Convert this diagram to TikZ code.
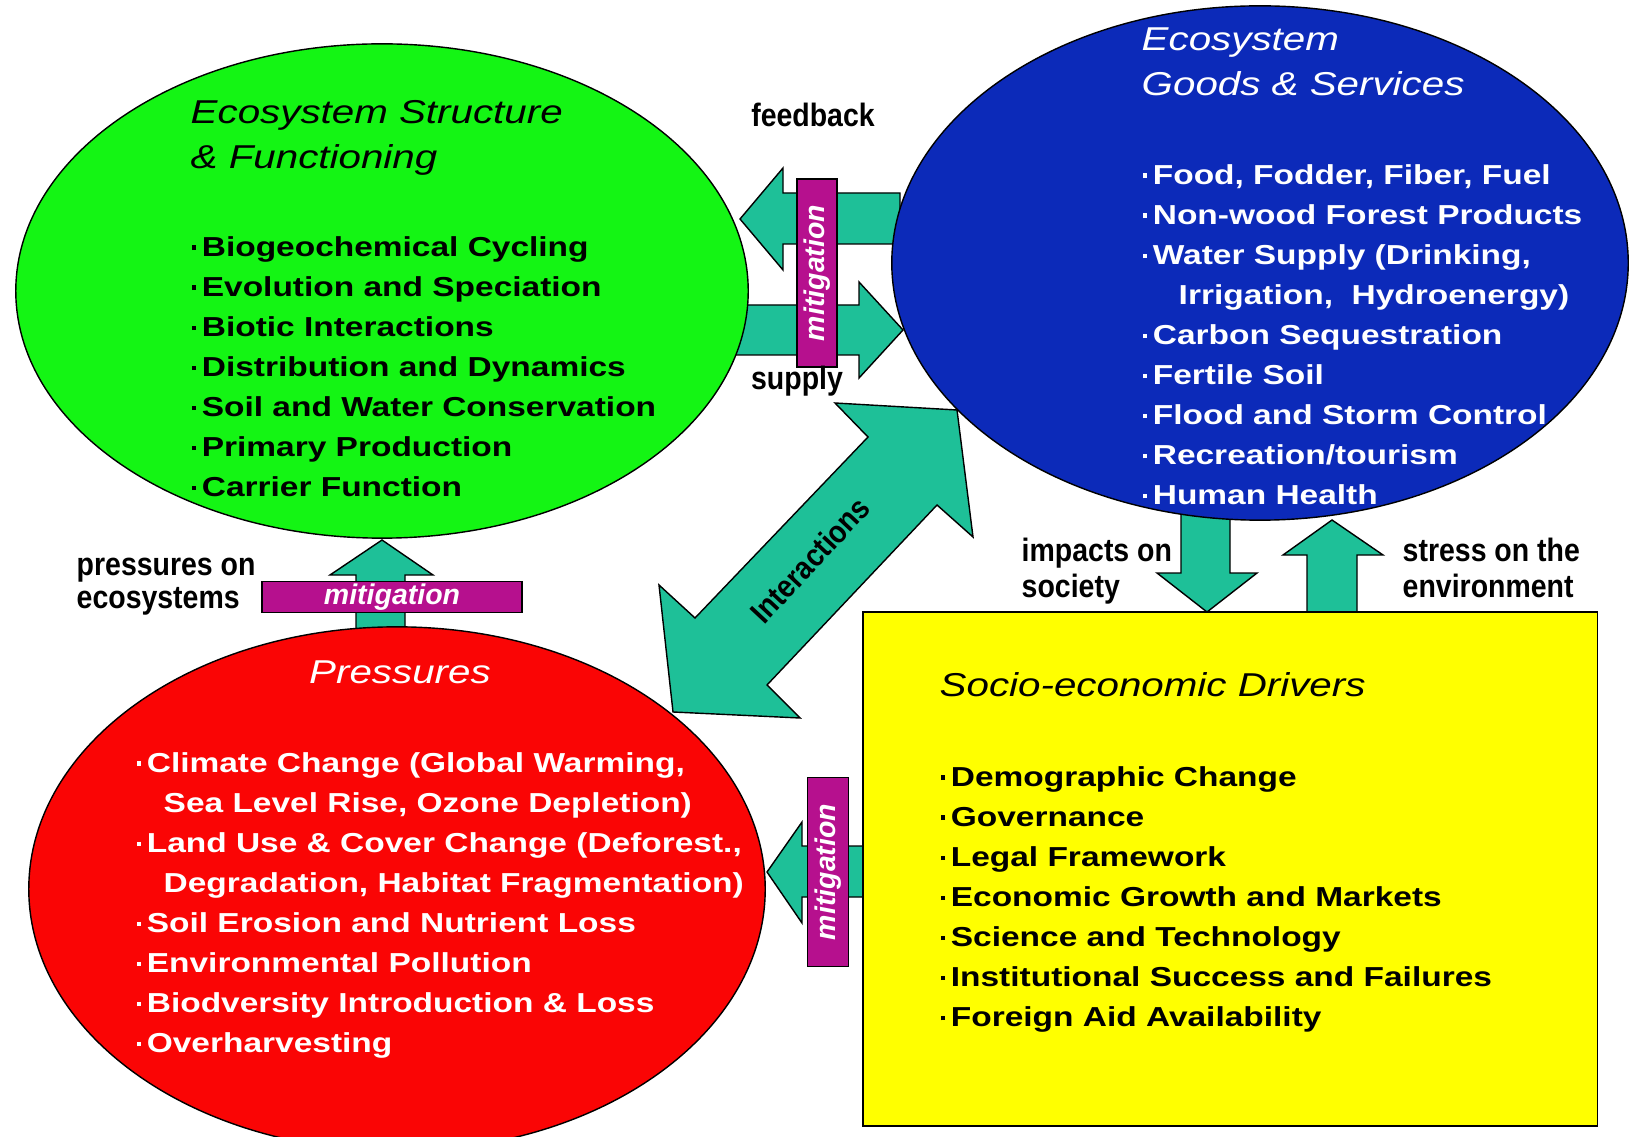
\documentclass[tikz,border=0pt]{standalone}
\usepackage{fontspec}
\setmainfont{Liberation Sans}
\newfontfamily\listfamily[FakeStretch=1.22]{Liberation Sans}
\newfontfamily\tagfamily[FakeStretch=0.88]{Liberation Sans}
\usetikzlibrary{shapes.geometric}

\definecolor{leafgreen}{RGB}{20,245,20}
\definecolor{deepblue}{RGB}{12,42,185}
\definecolor{hotred}{RGB}{250,5,5}
\definecolor{signyellow}{RGB}{255,255,0}
\definecolor{arrowteal}{RGB}{30,192,152}
\definecolor{mitimagenta}{RGB}{182,16,142}

% small square bullet, as wide as a middle dot
\newcommand\dotitem{\rlap{\hspace{0.04em}\rule[0.24em]{0.17em}{0.17em}}\phantom{·}}

\tikzset{
  blob/.style={ellipse, draw=black, line width=0.4pt, inner sep=0pt},
  bigarrow/.style={fill=arrowteal, draw=black, line width=0.4pt},
  mitibox/.style={fill=mitimagenta, draw=black, line width=0.4pt, inner sep=0pt,
    text=white, font=\bfseries\itshape\fontsize{8.1}{9}\selectfont},
  heading/.style={font=\listfamily\itshape\fontsize{9.4}{12.8}\selectfont,
    inner sep=0pt, align=left, anchor=north west},
  bullets/.style={font=\listfamily\bfseries\fontsize{7.8}{11.38}\selectfont,
    inner sep=0pt, align=left, anchor=north west},
  tag/.style={font=\tagfamily\bfseries\fontsize{9.2}{9.3}\selectfont,
    inner sep=0pt, align=left, anchor=north west}
}

\begin{document}
\begin{tikzpicture}[x=0.01cm, y=-0.01cm]
\useasboundingbox (0,0) rectangle (1631,1137);
\clip (0,0) rectangle (1631,1137);

% Arrows between the blobs (they go under the blobs)
\filldraw[bigarrow] (900,193) -- (783,193) -- (783,168) -- (740,219)
    -- (783,270) -- (783,244) -- (900,244) -- cycle;
\filldraw[bigarrow] (720,305) -- (859,305) -- (859,282) -- (903,330)
    -- (859,378) -- (859,355) -- (720,355) -- cycle;
\filldraw[bigarrow] (356,645) -- (356,575) -- (330,575) -- (382,540)
    -- (433,575) -- (405,575) -- (405,645) -- cycle;
\filldraw[bigarrow] (1181,505) -- (1181,573) -- (1157,573) -- (1207,612)
    -- (1257,573) -- (1230,573) -- (1230,505) -- cycle;
\filldraw[bigarrow] (1307,620) -- (1307,555) -- (1283,555) -- (1332,520)
    -- (1383,555) -- (1357,555) -- (1357,620) -- cycle;
\filldraw[bigarrow] (870,846) -- (802,846) -- (802,822) -- (767,872)
    -- (802,923) -- (802,897) -- (870,897) -- cycle;

% The four blocks
\node[blob, fill=leafgreen, minimum width=7.32cm, minimum height=4.94cm] (esf) at (382,291) {};
\node[blob, fill=deepblue, minimum width=7.36cm, minimum height=5.14cm] (egs) at (1260,263) {};
\node[blob, fill=hotred, minimum width=7.36cm, minimum height=5.24cm] (pres) at (397,889) {};
\node[draw=black, line width=0.4pt, fill=signyellow, inner sep=0pt,
    minimum width=7.34cm, minimum height=5.14cm] (sed) at (1230,869) {};

% Interactions arrow on top
\filldraw[bigarrow] (835,403) -- (957,410) -- (973,537) -- (937,505)
    -- (767,685) -- (800,718) -- (673,712) -- (659,585) -- (695,618)
    -- (868,437) -- cycle;
\node[font=\tagfamily\bfseries\fontsize{9}{10}\selectfont, rotate=47, inner sep=0pt]
    (inter) at (810,560) {Interactions};

% Mitigation bars
\node[mitibox, minimum width=2.60cm, minimum height=0.31cm] (miti-a) at (392,597) {mitigation};
\node[mitibox, rotate=90, minimum width=1.88cm, minimum height=0.40cm] (miti-b) at (817,273) {mitigation};
\node[mitibox, rotate=90, minimum width=1.89cm, minimum height=0.41cm] (miti-c) at (828,872) {mitigation};

% Ecosystem structure & functioning
\node[heading] (esf-title) at (190,91) {\strut Ecosystem Structure\\\& Functioning};
\node[bullets] (esf-list) at (190,228) {\strut\dotitem Biogeochemical Cycling\\
  \dotitem Evolution and Speciation\\
  \dotitem Biotic Interactions\\
  \dotitem Distribution and Dynamics\\
  \dotitem Soil and Water Conservation\\
  \dotitem Primary Production\\
  \dotitem Carrier Function};

% Goods & services
\node[heading, text=white] (egs-title) at (1141,18) {\strut Ecosystem\\Goods \& Services};
\node[bullets, text=white] (egs-list) at (1141,156) {\strut\dotitem Food, Fodder, Fiber, Fuel\\
  \dotitem Non-wood Forest Products\\
  \dotitem Water Supply (Drinking,\\
  \hspace*{0.37cm}Irrigation,\ \ Hydroenergy)\\
  \dotitem Carbon Sequestration\\
  \dotitem Fertile Soil\\
  \dotitem Flood and Storm Control\\
  \dotitem Recreation/tourism\\
  \dotitem Human Health};

% Pressures
\node[heading, text=white, anchor=base] (pres-title) at (400,683) {Pressures};
\node[bullets, text=white] (pres-list) at (135,744) {\strut\dotitem Climate Change (Global Warming,\\
  \hspace*{0.28cm}Sea Level Rise, Ozone Depletion)\\
  \dotitem Land Use \& Cover Change (Deforest.,\\
  \hspace*{0.28cm}Degradation, Habitat Fragmentation)\\
  \dotitem Soil Erosion and Nutrient Loss\\
  \dotitem Environmental Pollution\\
  \dotitem Biodversity Introduction \& Loss\\
  \dotitem Overharvesting};

% Socio-economic drivers
\node[heading, anchor=base west] (sed-title) at (939,696) {Socio-economic Drivers};
\node[bullets] (sed-list) at (939,758) {\strut\dotitem Demographic Change\\
  \dotitem Governance\\
  \dotitem Legal Framework\\
  \dotitem Economic Growth and Markets\\
  \dotitem Science and Technology\\
  \dotitem Institutional Success and Failures\\
  \dotitem Foreign Aid Availability};

% Arrow labels
\node[tag, anchor=base] (fb) at (813,127) {feedback};
\node[tag, anchor=base] (sp) at (797,390) {supply};
\node[tag] (poe) at (76,552) {\strut pressures on\\ecosystems};
\node[tag] (ios) at (1021,537) {\strut impacts on\\society};
\node[tag] (ste) at (1402,537) {\strut stress on the\\environment};

\end{tikzpicture}
\end{document}
